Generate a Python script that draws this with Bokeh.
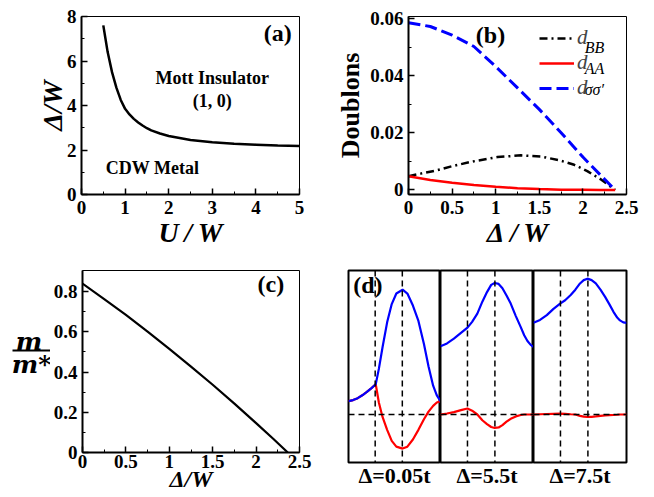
from bokeh.plotting import figure
from bokeh.layouts import row, column
from bokeh.models import (FixedTicker, Label, Legend, LegendItem, Span, Arrow,
                          CustomJSTickFormatter)
from bokeh.embed import file_html
from bokeh.resources import INLINE

FONT = "Liberation Serif"

# ---------------- data ----------------
# (a) phase boundary
U_a = [0.5, 0.55, 0.6, 0.7, 0.8, 0.9, 1.0, 1.1, 1.2, 1.3, 1.4, 1.5, 1.6, 1.8, 2.0, 2.5, 3.0, 3.5, 4.0, 4.5, 5.0]
D_a = [7.6, 7.0, 6.4, 5.5, 4.8, 4.25, 3.85, 3.6, 3.4, 3.24, 3.1, 2.98, 2.88, 2.74, 2.63, 2.45, 2.35, 2.28, 2.24, 2.2, 2.18]

# (b) doublons
x_bb = [0, 0.14, 0.33, 0.5, 0.71, 1.02, 1.29, 1.52, 1.74, 1.9, 2.05, 2.2, 2.37]
d_bb = [0.0048, 0.0057, 0.0069, 0.0083, 0.0098, 0.0115, 0.0121, 0.0117, 0.0103, 0.0088, 0.0066, 0.0038, 0.0]
x_aa = [0, 0.25, 0.5, 0.75, 1.0, 1.25, 1.5, 1.75, 2.0, 2.2, 2.37]
d_aa = [0.0048, 0.0035, 0.0025, 0.0017, 0.0011, 0.0006, 0.0003, 0.0001, 0.00005, 0.0, 0.0]
x_ss = [0, 0.25, 0.5, 0.75, 1.0, 1.25, 1.5, 1.75, 2.0, 2.25, 2.37]
d_ss = [0.0585, 0.0572, 0.0542, 0.0502, 0.0432, 0.0357, 0.0282, 0.0200, 0.0115, 0.0037, 0.0]
legend_main = ["d", "d", "d"]
legend_sub = ["BB", "AA", "\u03c3\u03c3\u2032"]

# (c) m/m*
x_c = [0, 0.25, 0.5, 0.75, 1.0, 1.25, 1.5, 1.75, 2.0, 2.2, 2.365]
m_c = [0.84, 0.763, 0.684, 0.601, 0.515, 0.427, 0.337, 0.243, 0.146, 0.067, 0.0]

# (d) three spectra
k1 = [0, 0.05, 0.1, 0.15, 0.2, 0.25, 0.296, 0.33, 0.37, 0.42, 0.47, 0.52, 0.588,
      0.64, 0.7, 0.76, 0.82, 0.87, 0.92, 0.96, 1.0]
blue1 = [0.28, 0.3, 0.34, 0.4, 0.47, 0.55, 0.63, 0.95, 1.4, 1.92, 2.3, 2.52, 2.6,
         2.52, 2.27, 1.95, 1.47, 1.0, 0.6, 0.4, 0.28]
red1 = [0.28, 0.3, 0.34, 0.4, 0.47, 0.55, 0.63, 0.25, -0.05, -0.32, -0.55, -0.67, -0.71,
        -0.67, -0.52, -0.32, -0.1, 0.06, 0.18, 0.25, 0.28]
k2 = [0, 0.07, 0.144, 0.22, 0.29, 0.34, 0.396, 0.45, 0.5, 0.545, 0.583, 0.625, 0.666,
      0.71, 0.755, 0.81, 0.863, 0.9, 0.935, 0.97, 1.0]
blue2 = [1.42, 1.48, 1.58, 1.7, 1.81, 1.93, 2.1, 2.35, 2.55, 2.7, 2.74, 2.72, 2.63,
         2.48, 2.31, 2.05, 1.82, 1.65, 1.53, 1.45, 1.41]
red2 = [0.0, 0.02, 0.05, 0.09, 0.125, 0.08, 0.0, -0.12, -0.2, -0.26, -0.28, -0.27, -0.22,
        -0.15, -0.09, -0.04, -0.01, 0.0, 0.0, 0.0, 0.0]
k3 = [0, 0.07, 0.143, 0.215, 0.286, 0.34, 0.4, 0.45, 0.5, 0.54, 0.58, 0.625, 0.67,
      0.72, 0.77, 0.815, 0.86, 0.9, 0.93, 0.965, 1.0]
blue3 = [1.91, 1.97, 2.07, 2.2, 2.31, 2.38, 2.49, 2.6, 2.73, 2.8, 2.83, 2.8, 2.73,
         2.6, 2.45, 2.3, 2.14, 2.02, 1.96, 1.92, 1.91]
red3 = [0.0, 0.005, 0.01, 0.015, 0.02, 0.015, 0.005, 0.0, -0.03, -0.045, -0.05, -0.048, -0.04,
        -0.03, -0.02, -0.015, -0.01, -0.005, 0.0, 0.0, 0.0]
d_vlines = [0.29, 0.585]
d_labels = ["\u0394=0.05t", "\u0394=5.5t", "\u0394=7.5t"]

fmt = CustomJSTickFormatter(code="return String(Math.round(tick*1000)/1000);")


def style(p, xt, xm, yt, ym, xlabel, ylabel):
    p.xaxis.ticker = FixedTicker(ticks=xt, minor_ticks=xm)
    p.yaxis.ticker = FixedTicker(ticks=yt, minor_ticks=ym)
    p.xaxis.formatter = fmt
    p.yaxis.formatter = fmt
    p.xaxis.axis_label = xlabel
    p.yaxis.axis_label = ylabel
    for ax in (p.xaxis[0], p.yaxis[0]):
        ax.axis_line_width = 2
        ax.axis_line_color = "black"
        ax.major_tick_in = 6
        ax.major_tick_out = 0
        ax.minor_tick_in = 3
        ax.minor_tick_out = 0
        ax.major_tick_line_width = 1.5
        ax.minor_tick_line_width = 1
        ax.major_label_text_font = FONT
        ax.major_label_text_font_style = "bold"
        ax.major_label_text_font_size = "19px"
        ax.major_label_text_color = "black"
        ax.axis_label_text_font = FONT
        ax.axis_label_text_font_style = "bold italic"
        ax.axis_label_text_font_size = "28px"
        ax.axis_label_text_color = "black"
    p.xaxis.major_label_standoff = 6
    p.yaxis.major_label_standoff = 5
    p.xaxis.axis_label_standoff = 0
    p.yaxis.axis_label_standoff = -4
    p.outline_line_color = "black"
    p.outline_line_width = 1
    p.xgrid.visible = False
    p.ygrid.visible = False


def lab(p, x, y, text, size="18px", style_="bold", align="center", font=FONT):
    p.add_layout(Label(x=x, y=y, text=text, text_font=font, text_font_size=size,
                       text_font_style=style_, text_align=align,
                       text_baseline="middle", text_color="black"))


# ---------------- (a) ----------------
pa = figure(width=327, height=250, x_range=(0, 5), y_range=(0, 8),
            min_border_left=81, min_border_right=28, min_border_top=16, min_border_bottom=54,
            output_backend="svg", toolbar_location=None)
style(pa, [0, 1, 2, 3, 4, 5], [0.5, 1.5, 2.5, 3.5, 4.5], [0, 2, 4, 6, 8], [1, 3, 5, 7],
      "U\u2009/\u2009W", "\u0394/W")
pa.line(U_a, D_a, line_color="black", line_width=2.5)
lab(pa, 3.0, 5.24, "Mott Insulator")
lab(pa, 3.0, 4.18, "(1, 0)")
lab(pa, 1.63, 1.2, "CDW Metal")
lab(pa, 4.5, 7.24, "(a)", size="24px")

# ---------------- (b) ----------------
pb = figure(width=327, height=250, x_range=(0, 2.5), y_range=(-0.0016, 0.0607),
            min_border_left=81, min_border_right=28, min_border_top=16, min_border_bottom=54,
            output_backend="svg", toolbar_location=None)
style(pb, [0, 0.5, 1, 1.5, 2, 2.5], [0.25, 0.75, 1.25, 1.75, 2.25],
      [0, 0.02, 0.04, 0.06], [0.01, 0.03, 0.05], "\u0394\u2009/\u2009W", "Doublons")
pb.yaxis.axis_label_text_font_style = "bold"
pb.yaxis.axis_label_text_font_size = "26px"
pb.yaxis.axis_label_standoff = 2
r_bb = pb.line(x_bb, d_bb, line_color="black", line_width=2.5, line_dash="8 4 2 4")
r_aa = pb.line(x_aa, d_aa, line_color="red", line_width=2.5)
r_ss = pb.line(x_ss, d_ss, line_color="blue", line_width=3, line_dash="12 5")
leg = Legend(items=[LegendItem(label=legend_main[0], renderers=[r_bb]),
                    LegendItem(label=legend_main[1], renderers=[r_aa]),
                    LegendItem(label=legend_main[2], renderers=[r_ss])],
             location="top_right")
leg.border_line_color = None
leg.background_fill_alpha = 0
leg.label_text_font = FONT
leg.label_text_font_style = "italic"
leg.label_text_font_size = "21px"
leg.glyph_width = 35
leg.glyph_height = 22
leg.label_height = 22
leg.label_width = 40
leg.label_standoff = 3
leg.spacing = -2
leg.padding = 2
leg.margin = 9
pb.add_layout(leg)
for i, (sx, sy) in enumerate([(2.02, 0.0497), (2.02, 0.0424), (2.02, 0.0351)]):
    lab(pb, sx, sy, legend_sub[i], size="16px", style_="italic", align="left")
lab(pb, 0.94, 0.0541, "(b)", size="24px")

# ---------------- (c) ----------------
pfr = figure(width=50, height=247, x_range=(0, 50), y_range=(0, 0.905),
             min_border_left=0, min_border_right=0, min_border_top=20, min_border_bottom=45,
             output_backend="svg", toolbar_location=None)
pfr.axis.visible = False
pfr.xgrid.visible = False
pfr.ygrid.visible = False
pfr.outline_line_color = None
lab(pfr, 28.5, 0.552, "m", size="25px", style_="bold italic", font="DejaVu Serif")
lab(pfr, 31, 0.44, "m*", size="25px", style_="bold italic", font="DejaVu Serif")
pfr.add_layout(Arrow(end=None, x_start=12, x_end=50, y_start=0.507, y_end=0.507,
                     line_color="black", line_width=2))

pc = figure(width=277, height=247, x_range=(0, 2.5), y_range=(0, 0.905),
            min_border_left=32, min_border_right=28, min_border_top=20, min_border_bottom=45,
            output_backend="svg", toolbar_location=None)
style(pc, [0, 0.5, 1, 1.5, 2, 2.5], [0.25, 0.75, 1.25, 1.75, 2.25],
      [0, 0.2, 0.4, 0.6, 0.8], [0.1, 0.3, 0.5, 0.7], "\u0394/W", None)
pc.xaxis.major_label_standoff = 2
pc.xaxis.axis_label_text_font_size = "24px"
pc.xaxis.axis_label_standoff = -5
pc.line(x_c, m_c, line_color="black", line_width=2.2)
lab(pc, 2.17, 0.84, "(c)", size="24px")


# ---------------- (d) ----------------
def dpanel(k, blue, red, label, left, right, width):
    p = figure(width=width, height=247, x_range=(0, 1), y_range=(-1, 3),
               min_border_left=left, min_border_right=right, min_border_top=20,
               min_border_bottom=35, output_backend="svg", toolbar_location=None)
    p.xgrid.visible = False
    p.ygrid.visible = False
    p.yaxis.visible = False
    p.xaxis.ticker = FixedTicker(ticks=[])
    p.xaxis.axis_line_color = None
    p.xaxis.major_tick_line_color = None
    p.xaxis.axis_label = label
    p.xaxis.axis_label_text_font = FONT
    p.xaxis.axis_label_text_font_style = "bold"
    p.xaxis.axis_label_text_font_size = "22px"
    p.xaxis.axis_label_text_color = "black"
    p.xaxis.axis_label_standoff = 0
    p.outline_line_color = "black"
    p.outline_line_width = 2
    for v in d_vlines:
        p.add_layout(Span(location=v, dimension="height", line_color="black",
                          line_width=1.5, line_dash="6 4"))
    p.add_layout(Span(location=0, dimension="width", line_color="black",
                      line_width=1.5, line_dash="6 4"))
    p.line(k, red, line_color="red", line_width=2.2)
    p.line(k, blue, line_color="blue", line_width=2.2)
    return p


pd1 = dpanel(k1, blue1, red1, d_labels[0], 21, 0, 113)
pd2 = dpanel(k2, blue2, red2, d_labels[1], 0, 0, 93)
pd3 = dpanel(k3, blue3, red3, d_labels[2], 0, 28, 121)
lab(pd1, 0.21, 2.69, "(d)", size="24px")

layout = column(row(pa, pb), row(row(pfr, pc), row(pd1, pd2, pd3)))
open("out.html", "w").write(file_html(layout, INLINE))
